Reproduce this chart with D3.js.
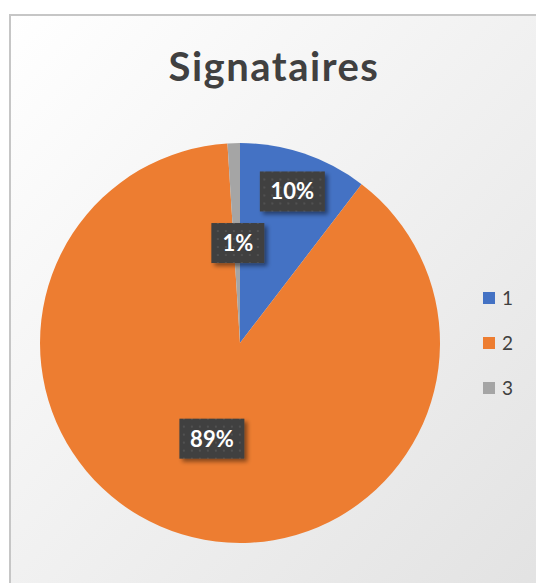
<!DOCTYPE html>
<html>
<head>
<meta charset="utf-8">
<script src="https://cdn.jsdelivr.net/npm/d3@7"></script>
<style>
  html, body { margin: 0; padding: 0; background: #fff; }
  svg { display: block; }
</style>
</head>
<body>
<div class="pie-chart"></div>
<script>
const title = "Signataires";
const categories = ["1", "2", "3"];
const values = [52, 443, 5];
const colors = ["#4472C4", "#ED7D31", "#A5A5A5"];

const width = 536;
const height = 583;
const cx = 240;
const cy = 343;
const radius = 200;

const svg = d3.select(".pie-chart")
  .append("svg")
  .attr("width", width)
  .attr("height", height)
  .style("font-family", "Lato, 'Open Sans', sans-serif");

const defs = svg.append("defs");

const bg = defs.append("linearGradient")
  .attr("id", "bg")
  .attr("x1", "0%").attr("y1", "0%")
  .attr("x2", "100%").attr("y2", "100%");
bg.append("stop").attr("offset", "0%").attr("stop-color", "#ffffff");
bg.append("stop").attr("offset", "100%").attr("stop-color", "#e2e2e2");

// dotted texture of the label boxes
const dots = defs.append("pattern")
  .attr("id", "dots")
  .attr("width", 8).attr("height", 8)
  .attr("patternUnits", "userSpaceOnUse");
dots.append("rect").attr("width", 8).attr("height", 8).attr("fill", "#404040");
dots.append("rect").attr("x", 3).attr("y", 3).attr("width", 2).attr("height", 2).attr("fill", "#515151");

const shadow = defs.append("filter")
  .attr("id", "shadow")
  .attr("x", "-20%").attr("y", "-20%")
  .attr("width", "150%").attr("height", "150%");
shadow.append("feDropShadow")
  .attr("dx", 3).attr("dy", 3)
  .attr("stdDeviation", 2)
  .attr("flood-color", "#000")
  .attr("flood-opacity", 0.45);

svg.append("rect")
  .attr("x", 10).attr("y", 15)
  .attr("width", width).attr("height", height)
  .attr("fill", "url(#bg)")
  .attr("stroke", "#c6c6c6")
  .attr("stroke-width", 2);

svg.append("text")
  .attr("x", 274)
  .attr("y", 81)
  .attr("text-anchor", "middle")
  .attr("font-size", 40)
  .attr("font-weight", "bold")
  .attr("letter-spacing", 1.5)
  .attr("fill", "#404040")
  .text(title);

const pie = d3.pie().value(d => d).sort(null);
const arcs = pie(values);
const total = d3.sum(values);

const arc = d3.arc().innerRadius(0).outerRadius(radius);

const g = svg.append("g")
  .attr("transform", `translate(${cx},${cy})`);

g.selectAll("path")
  .data(arcs)
  .enter()
  .append("path")
  .attr("d", arc)
  .attr("fill", (d, i) => colors[i]);

// label distance from centre, as a fraction of the radius
const labelPos = [0.8, 0.5, 0.5];

const labels = g.selectAll(".lbl")
  .data(arcs)
  .enter()
  .append("g")
  .attr("class", "lbl")
  .attr("transform", (d, i) => {
    const r = radius * labelPos[i];
    const c = d3.arc().innerRadius(r).outerRadius(r).centroid(d);
    return `translate(${c[0] + 1},${c[1]})`;
  });

labels.each(function (d) {
  const txt = Math.round(d.value / total * 100) + "%";
  const el = d3.select(this);
  const w = txt.length * 12 + 29;
  el.append("rect")
    .attr("x", -w / 2).attr("y", -20)
    .attr("width", w).attr("height", 40)
    .attr("fill", "url(#dots)")
    .attr("filter", "url(#shadow)");
  el.append("text")
    .attr("text-anchor", "middle")
    .attr("dy", "0.36em")
    .attr("font-size", 22)
    .attr("font-weight", "bold")
    .attr("fill", "#ffffff")
    .text(txt);
});

const legend = svg.append("g")
  .attr("transform", "translate(483,292)");

const item = legend.selectAll("g")
  .data(categories)
  .enter()
  .append("g")
  .attr("transform", (d, i) => `translate(0,${i * 45})`);

item.append("rect")
  .attr("width", 12).attr("height", 12)
  .attr("fill", (d, i) => colors[i]);

item.append("text")
  .attr("x", 19)
  .attr("y", 6)
  .attr("dy", "0.36em")
  .attr("font-size", 19)
  .attr("fill", "#404040")
  .text(d => d);
</script>
</body>
</html>
